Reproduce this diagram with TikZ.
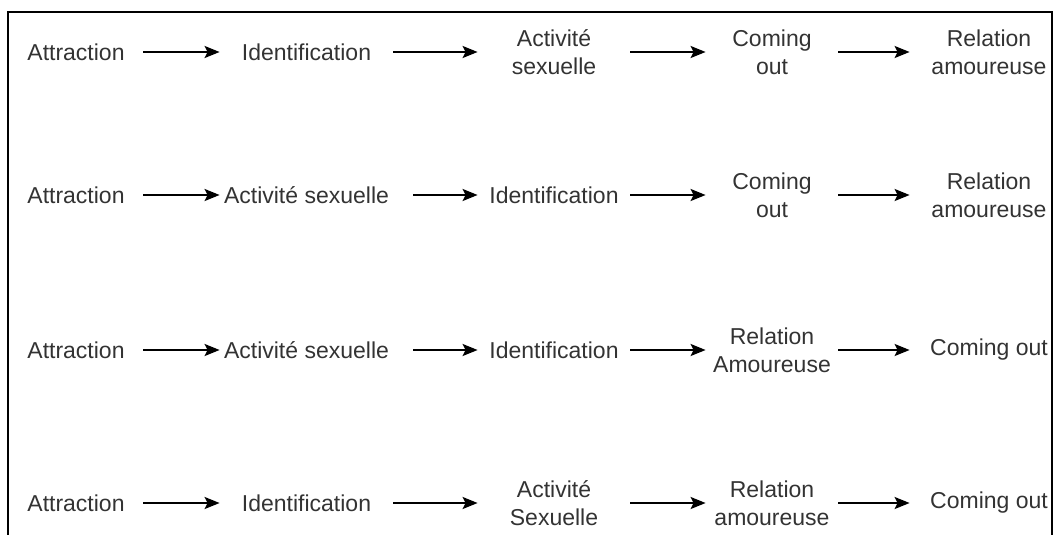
\documentclass[tikz,border=0pt]{standalone}
\usepackage{fontspec}
\setmainfont{Liberation Sans}
\usetikzlibrary{arrows.meta}
\tikzset{>={Stealth[length=7.5pt,width=6pt,inset=1.5pt]}}
\definecolor{textgrey}{RGB}{51,51,51}
\tikzstyle{stage}=[inner sep=0pt,minimum height=30pt,align=center,text=textgrey,
  font=\fontsize{11.5}{14}\selectfont]
\tikzstyle{colA}=[stage,minimum width=67pt]
\tikzstyle{colB}=[stage,minimum width=86.5pt]
\tikzstyle{colC}=[stage,minimum width=76pt]
\tikzstyle{colD}=[stage,minimum width=66pt]
\tikzstyle{colE}=[stage,minimum width=79pt]
\tikzstyle{flow}=[->,draw=black,line width=1pt]
\tikzstyle{frameline}=[draw=black,line width=1pt]

\begin{document}
\begin{tikzpicture}[x=0.5pt,y=-0.5pt]
  \useasboundingbox (0,0) rectangle (1054,535);
  \draw[frameline] (8,540) -- (8,12) -- (1052,12) -- (1052,540);

  % first order
  \node[colA] (a1) at (76,52) {Attraction};
  \node[colB] (b1) at (306.5,52) {Identification};
  \node[colC] (c1) at (554,52) {Activit\'e\\sexuelle};
  \node[colD] (d1) at (772,52) {Coming\\out};
  \node[colE] (e1) at (989,52) {Relation\\amoureuse};

  % second order
  \node[colA] (a2) at (76,195) {Attraction};
  \node[colB] (b2) at (306.5,195) {Activit\'e sexuelle};
  \node[colC] (c2) at (554,195) {Identification};
  \node[colD] (d2) at (772,195) {Coming\\out};
  \node[colE] (e2) at (989,195) {Relation\\amoureuse};

  % third order
  \node[colA] (a3) at (76,350) {Attraction};
  \node[colB] (b3) at (306.5,350) {Activit\'e sexuelle};
  \node[colC] (c3) at (554,350) {Identification};
  \node[colD] (d3) at (772,350) {Relation\\Amoureuse};
  \node[colE] (e3) at (989,350) {Coming out};

  % fourth order
  \node[colA] (a4) at (76,503) {Attraction};
  \node[colB] (b4) at (306.5,503) {Identification};
  \node[colC] (c4) at (554,503) {Activit\'e\\Sexuelle};
  \node[colD] (d4) at (772,503) {Relation\\amoureuse};
  \node[colE] (e4) at (989,503) {Coming out};

  \draw[flow] (a1) -- (b1);
  \draw[flow] (b1) -- (c1);
  \draw[flow] (c1) -- (d1);
  \draw[flow] (d1) -- (e1);

  \draw[flow] (a2) -- (b2);
  \draw[flow,shorten <=10pt] (b2) -- (c2);
  \draw[flow] (c2) -- (d2);
  \draw[flow] (d2) -- (e2);

  \draw[flow] (a3) -- (b3);
  \draw[flow,shorten <=10pt] (b3) -- (c3);
  \draw[flow] (c3) -- (d3);
  \draw[flow] (d3) -- (e3);

  \draw[flow] (a4) -- (b4);
  \draw[flow] (b4) -- (c4);
  \draw[flow] (c4) -- (d4);
  \draw[flow] (d4) -- (e4);
\end{tikzpicture}
\end{document}
